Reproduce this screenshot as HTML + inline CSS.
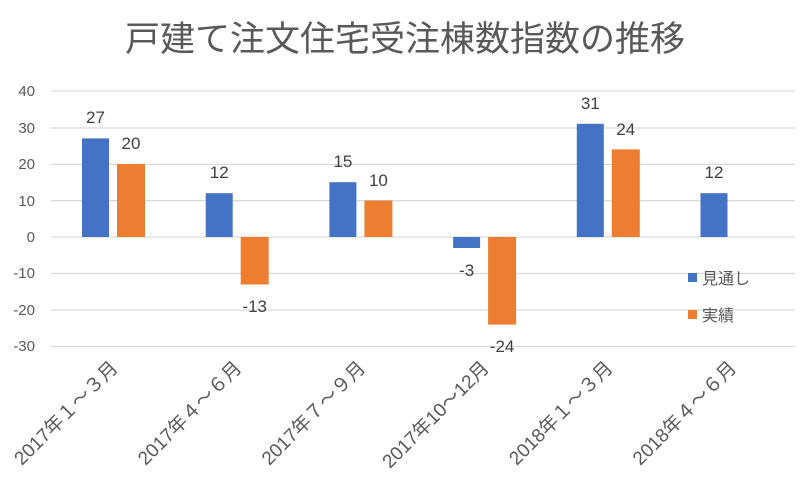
<!DOCTYPE html>
<html><head><meta charset="utf-8"><style>
body{margin:0;background:#fff}
svg text{font-family:"Liberation Sans","Noto Sans CJK JP",sans-serif}
</style></head><body>
<svg width="807" height="488" xmlns="http://www.w3.org/2000/svg">
<rect width="807" height="488" fill="#fff"/>
<text x="405" y="51" font-size="35" fill="#595959" text-anchor="middle">戸建て注文住宅受注棟数指数の推移</text>
<g stroke="#d9d9d9" stroke-width="1.3">
<line x1="51" x2="795" y1="91" y2="91"/><line x1="51" x2="795" y1="128" y2="128"/>
<line x1="51" x2="795" y1="164.4" y2="164.4"/><line x1="51" x2="795" y1="200.7" y2="200.7"/>
<line x1="51" x2="795" y1="237" y2="237"/><line x1="51" x2="795" y1="273.5" y2="273.5"/>
<line x1="51" x2="795" y1="310" y2="310"/><line x1="51" x2="795" y1="346.5" y2="346.5"/>
</g>
<g font-size="15" fill="#595959" text-anchor="end">
<text x="35" y="96">40</text><text x="35" y="133">30</text><text x="35" y="169">20</text>
<text x="35" y="206">10</text><text x="35" y="242">0</text><text x="35" y="278">-10</text>
<text x="35" y="315">-20</text><text x="35" y="351">-30</text>
</g>
<g fill="#4472c4">
<rect x="82" y="138.4" width="27" height="98.6"/>
<rect x="205.7" y="193.2" width="27" height="43.8"/>
<rect x="329.4" y="182.2" width="27" height="54.8"/>
<rect x="453.1" y="237" width="27" height="11"/>
<rect x="576.8" y="123.8" width="27" height="113.2"/>
<rect x="700.5" y="193.2" width="27" height="43.8"/>
</g>
<g fill="#ed7d31">
<rect x="117" y="164" width="28" height="73"/>
<rect x="240.7" y="237" width="28" height="47.5"/>
<rect x="364.4" y="200.5" width="28" height="36.5"/>
<rect x="488.1" y="237" width="28" height="87.6"/>
<rect x="611.8" y="149.4" width="28" height="87.6"/>
</g>
<g font-size="17" fill="#404040" text-anchor="middle">
<text x="95.5" y="123">27</text><text x="131" y="149">20</text>
<text x="219.2" y="178">12</text><text x="254.7" y="312">-13</text>
<text x="342.9" y="167">15</text><text x="378.4" y="186">10</text>
<text x="466.6" y="276">-3</text><text x="502.1" y="352">-24</text>
<text x="590.3" y="109">31</text><text x="625.8" y="135">24</text>
<text x="714" y="178">12</text>
</g>
<rect x="688" y="273" width="9" height="9" fill="#4472c4"/>
<text x="702" y="284" font-size="16" fill="#595959">見通し</text>
<rect x="688" y="310" width="9" height="9" fill="#ed7d31"/>
<text x="702" y="321" font-size="16" fill="#595959">実績</text>
<g font-size="19" fill="#595959" text-anchor="end">
<text transform="translate(119,369) rotate(-45)">2017年１～３月</text>
<text transform="translate(242.7,369) rotate(-45)">2017年４～６月</text>
<text transform="translate(366.4,369) rotate(-45)">2017年７～９月</text>
<text transform="translate(490.1,369) rotate(-45)">2017年10～12月</text>
<text transform="translate(613.8,369) rotate(-45)">2018年１～３月</text>
<text transform="translate(737.5,369) rotate(-45)">2018年４～６月</text>
</g>
</svg>
</body></html>
